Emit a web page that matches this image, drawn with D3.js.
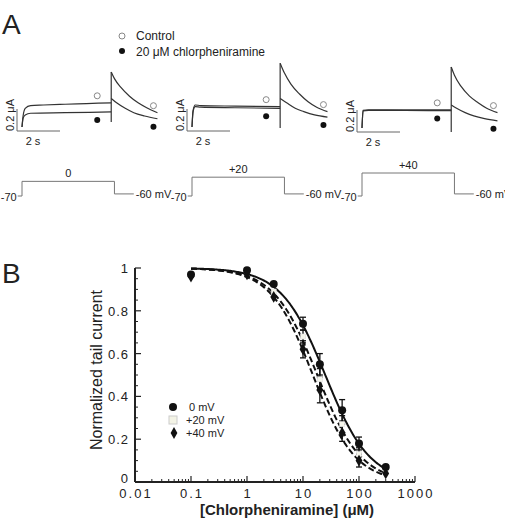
<!DOCTYPE html>
<html>
<head>
<meta charset="utf-8">
<script src="https://cdnjs.cloudflare.com/ajax/libs/d3/7.8.5/d3.min.js"></script>
<style>
  body { margin: 0; background: #fff; }
  text { font-family: Arial, "Liberation Sans", sans-serif; fill: #222; }
</style>
</head>
<body>
<svg id="fig" width="505" height="523"></svg>
<script>
// ---- Panel A: current traces (t in s, I in uA above holding level)
const stepVoltages = [0, 20, 40];
const ctrlStep = [
  [[0, 0], [0.05, 0.1], [0.15, 0.17], [0.4, 0.195], [1, 0.2], [2, 0.207], [3, 0.213], [4.15, 0.22]],
  [[0, 0], [0.05, 0.15], [0.15, 0.2], [0.4, 0.195], [2, 0.19], [4.1, 0.185]],
  [[0, 0], [0.05, 0.16], [0.3, 0.166], [2, 0.165], [4.15, 0.165]]
];
const drugStep = [
  [[0, 0], [0.05, 0.08], [0.15, 0.11], [0.4, 0.125], [2, 0.13], [4.15, 0.137]],
  [[0, 0], [0.05, 0.14], [0.15, 0.185], [0.4, 0.18], [2, 0.175], [4.1, 0.17]],
  [[0, 0], [0.05, 0.155], [0.3, 0.16], [2, 0.159], [4.15, 0.158]]
];
const ctrlTail = [
  [[4.15, 0.5], [4.3, 0.44], [4.6, 0.36], [5.0, 0.28], [5.4, 0.22], [5.8, 0.175], [6.3, 0.13]],
  [[4.1, 0.58], [4.3, 0.49], [4.6, 0.39], [5.0, 0.3], [5.4, 0.23], [5.8, 0.18], [6.3, 0.14]],
  [[4.15, 0.555], [4.3, 0.48], [4.6, 0.38], [5.0, 0.29], [5.4, 0.23], [5.8, 0.18], [6.3, 0.14]]
];
const drugTail = [
  [[4.15, 0.26], [4.4, 0.22], [4.8, 0.17], [5.2, 0.13], [5.7, 0.1], [6.3, 0.075]],
  [[4.1, 0.26], [4.4, 0.22], [4.8, 0.17], [5.2, 0.14], [5.7, 0.11], [6.3, 0.09]],
  [[4.15, 0.21], [4.4, 0.18], [4.8, 0.14], [5.2, 0.11], [5.7, 0.085], [6.3, 0.065]]
];
// capacitive artifact at end of step: [t, low, high]
const artifacts = [[4.15, 0.045, 0.5], [4.1, -0.01, 0.58], [4.15, -0.036, 0.555]];

// voltage protocol: [t, mV], step level filled in per panel
const protoTimes = [-0.2, 0, 0, 4.3, 4.3, 5.2];
const holdingMv = -70, tailMv = -60;

// ---- Panel B: concentration-response
const conc = [0.1, 1, 3, 10, 20, 50, 100, 300];
const tail0 = [0.97, 0.99, 0.925, 0.74, 0.55, 0.335, 0.18, 0.07];
const err0 = [0.01, 0.01, 0.01, 0.03, 0.05, 0.05, 0.03, 0.01];
const tail20 = [0.965, 0.975, 0.89, 0.68, 0.48, 0.27, 0.13, 0.05];
const err20 = [0.01, 0.01, 0.01, 0.03, 0.05, 0.04, 0.03, 0.01];
const tail40 = [0.96, 0.97, 0.865, 0.62, 0.43, 0.23, 0.10, 0.04];
const err40 = [0.01, 0.01, 0.01, 0.04, 0.06, 0.04, 0.03, 0.01];
// Hill fits [IC50 uM, slope]
const fit0 = [25, 1.1];
const fit20 = [18, 1.12];
const fit40 = [15, 1.15];
const xTicks = [0.01, 0.1, 1, 10, 100, 1000];
const yTicks = [0, 0.2, 0.4, 0.6, 0.8, 1];

const svg = d3.select("#fig");

// ================= Panel A =================
svg.append("text").attr("x", 2).attr("y", 34).style("font-size", "28px").text("A");

// legend
svg.append("circle").attr("cx", 122).attr("cy", 36).attr("r", 3)
  .attr("fill", "#fff").attr("stroke", "#888").attr("stroke-width", 1);
svg.append("text").attr("x", 136).attr("y", 40).style("font-size", "12px").text("Control");
svg.append("circle").attr("cx", 122).attr("cy", 51).attr("r", 3).attr("fill", "#111");
svg.append("text").attr("x", 136).attr("y", 56).style("font-size", "12px").text("20 \u03bcM chlorpheniramine");

const panelX = [22, 192, 362];
const panelY = [127, 127, 128];
const pxPerS = 21.5, pxPerUA = 110;

panelX.forEach((x0, i) => {
  const y0 = panelY[i];
  const x = d3.scaleLinear().domain([0, 1]).range([x0, x0 + pxPerS]);
  const y = d3.scaleLinear().domain([0, 1]).range([y0, y0 - pxPerUA]);
  const line = d3.line().x(d => x(d[0])).y(d => y(d[1])).curve(d3.curveMonotoneX);
  const g = svg.append("g");

  [ctrlStep[i], drugStep[i], ctrlTail[i], drugTail[i]].forEach(tr => {
    g.append("path").datum(tr).attr("d", line)
      .attr("fill", "none").attr("stroke", "#333").attr("stroke-width", 1.2);
  });
  const a = artifacts[i];
  g.append("line").attr("x1", x(a[0])).attr("x2", x(a[0]))
    .attr("y1", y(a[1])).attr("y2", y(a[2]))
    .attr("stroke", "#333").attr("stroke-width", 1.2);

  // markers next to trace ends
  const cS = ctrlStep[i][ctrlStep[i].length - 1], dS = drugStep[i][drugStep[i].length - 1];
  const cT = ctrlTail[i][ctrlTail[i].length - 1], dT = drugTail[i][drugTail[i].length - 1];
  const mx1 = x(cS[0]) - 14, mx2 = x(cT[0]) - 4;
  g.append("circle").attr("cx", mx1).attr("cy", y(cS[1]) - 7).attr("r", 3)
    .attr("fill", "#fff").attr("stroke", "#888");
  g.append("circle").attr("cx", mx1).attr("cy", y(dS[1]) + 8).attr("r", 3).attr("fill", "#111");
  g.append("circle").attr("cx", mx2).attr("cy", y(cT[1]) - 7).attr("r", 3)
    .attr("fill", "#fff").attr("stroke", "#888");
  g.append("circle").attr("cx", mx2).attr("cy", y(dT[1]) + 8).attr("r", 3).attr("fill", "#111");

  // scale bars
  const bx = x0 - 5, by = y0 + 4;
  g.append("path").attr("d", `M${bx},${y(0.2) + 4}V${by}H${x(2) - 5}`)
    .attr("fill", "none").attr("stroke", "#666").attr("stroke-width", 1);
  g.append("text").attr("transform", `translate(${bx - 3},${by - 16}) rotate(-90)`)
    .attr("text-anchor", "middle").style("font-size", "11px").text("0.2 \u03bcA");
  g.append("text").attr("x", bx + 16).attr("y", by + 14)
    .attr("text-anchor", "middle").style("font-size", "11px").text("2 s");

  // voltage protocol
  const vy = d3.scaleLinear().domain([-70, 40]).range([196, 173]);
  const V = stepVoltages[i];
  const mv = [holdingMv, holdingMv, V, V, tailMv, tailMv];
  const proto = protoTimes.map((t, k) => [t, mv[k]]);
  g.append("path").datum(proto)
    .attr("d", d3.line().x(d => x(d[0])).y(d => vy(d[1])))
    .attr("fill", "none").attr("stroke", "#777").attr("stroke-width", 1);
  g.append("text").attr("x", x(-0.2) - 1).attr("y", vy(holdingMv) + 5)
    .attr("text-anchor", "end").style("font-size", "11px").text(String(holdingMv));
  g.append("text").attr("x", x(5.2) + 2).attr("y", vy(tailMv) + 4)
    .style("font-size", "11px").text(tailMv + " mV");
  g.append("text").attr("x", x(2.15)).attr("y", vy(V) - 4)
    .attr("text-anchor", "middle").style("font-size", "11px").text(V === 0 ? "0" : "+" + V);
});

// ================= Panel B =================
svg.append("text").attr("x", 2).attr("y", 283).style("font-size", "28px").text("B");

const x = d3.scaleLog().domain([0.01, 1000]).range([135, 415]);
const y = d3.scaleLinear().domain([0, 1]).range([482, 268]);
const ax = svg.append("g").attr("stroke", "#222");

// axes lines
ax.append("line").attr("x1", x(0.01)).attr("x2", x(1000)).attr("y1", y(0)).attr("y2", y(0)).attr("stroke-width", 2);
ax.append("line").attr("x1", x(0.01)).attr("x2", x(0.01)).attr("y1", y(0)).attr("y2", y(1)).attr("stroke-width", 2);

// x ticks (log, inward)
const minorX = [];
for (let k = 0; k < xTicks.length - 1; k++)
  for (let m = 2; m <= 9; m++) minorX.push(xTicks[k] * m);
ax.selectAll("line.xmaj").data(xTicks).join("line").attr("class", "xmaj")
  .attr("x1", d => x(d)).attr("x2", d => x(d)).attr("y1", y(0)).attr("y2", y(0) - 6).attr("stroke-width", 1.2);
ax.selectAll("line.xmin").data(minorX).join("line").attr("class", "xmin")
  .attr("x1", d => x(d)).attr("x2", d => x(d)).attr("y1", y(0)).attr("y2", y(0) - 3).attr("stroke-width", 1);
svg.selectAll("text.xl").data(xTicks).join("text").attr("class", "xl")
  .attr("x", d => x(d) + 1).attr("y", 498).attr("text-anchor", "middle")
  .style("font-size", "13px").style("letter-spacing", "2px").text(d => String(d));

// y ticks
const minorY = d3.range(0, 1.0001, 0.05).filter(v => Math.abs(v * 5 - Math.round(v * 5)) > 1e-6);
ax.selectAll("line.ymaj").data(yTicks).join("line").attr("class", "ymaj")
  .attr("x1", x(0.01)).attr("x2", x(0.01) + 6).attr("y1", d => y(d)).attr("y2", d => y(d)).attr("stroke-width", 1.2);
ax.selectAll("line.ymin").data(minorY).join("line").attr("class", "ymin")
  .attr("x1", x(0.01)).attr("x2", x(0.01) + 3).attr("y1", d => y(d)).attr("y2", d => y(d)).attr("stroke-width", 1);
svg.selectAll("text.yl").data(yTicks).join("text").attr("class", "yl")
  .attr("x", 129).attr("y", d => y(d) + (d === 0 ? 1 : 5)).attr("text-anchor", "end")
  .style("font-size", "13px").style("letter-spacing", "1px").text(d => String(d));

// axis titles
svg.append("text").attr("transform", "translate(102,370) rotate(-90)")
  .attr("text-anchor", "middle").style("font-size", "16px").text("Normalized tail current");
svg.append("text").attr("x", 287).attr("y", 515).attr("text-anchor", "middle")
  .style("font-size", "15px").style("font-weight", "bold").text("[Chlorpheniramine] (\u03bcM)");

// fitted curves
const hill = p => conc => 1 / (1 + Math.pow(conc / p[0], p[1]));
const xs = d3.range(-1, Math.log10(300) + 0.001, 0.02).map(e => Math.pow(10, e));
const fitLine = d3.line().x(d => x(d[0])).y(d => y(d[1]));
[[fit40, "6,3"], [fit20, "6,3"], [fit0, null]].forEach(([p, dash]) => {
  const f = hill(p);
  svg.append("path").datum(xs.map(c => [c, f(c)])).attr("d", fitLine)
    .attr("fill", "none").attr("stroke", "#111").attr("stroke-width", 2)
    .attr("stroke-dasharray", dash);
});

// error bars
function errBars(vals, errs) {
  const g = svg.append("g").attr("stroke", "#111").attr("stroke-width", 1.3);
  conc.forEach((c, i) => {
    if (errs[i] < 0.02) return;
    const cx = x(c);
    g.append("line").attr("x1", cx).attr("x2", cx).attr("y1", y(vals[i] - errs[i])).attr("y2", y(vals[i] + errs[i]));
    [-1, 1].forEach(s => g.append("line").attr("x1", cx - 3).attr("x2", cx + 3)
      .attr("y1", y(vals[i] + s * errs[i])).attr("y2", y(vals[i] + s * errs[i])));
  });
}
errBars(tail20, err20);
errBars(tail40, err40);
errBars(tail0, err0);

const diamond = d3.symbol().type(d3.symbolDiamond).size(40);
// +20 mV squares sit faintly beneath the other markers
svg.selectAll("rect.sq").data(conc).join("rect").attr("class", "sq")
  .attr("x", (d) => x(d) - 2.5).attr("y", (d, i) => y(tail20[i]) - 2.5)
  .attr("width", 5).attr("height", 5).attr("fill", "#f6f6ec").attr("stroke", "#ddd").attr("stroke-width", 0.6);
svg.selectAll("path.dm").data(conc).join("path").attr("class", "dm")
  .attr("transform", (d, i) => `translate(${x(d)},${y(tail40[i])})`)
  .attr("d", diamond).attr("fill", "#111");
svg.selectAll("circle.c0").data(conc).join("circle").attr("class", "c0")
  .attr("cx", d => x(d)).attr("cy", (d, i) => y(tail0[i])).attr("r", 4).attr("fill", "#111");

// legend B
const lg = svg.append("g");
lg.append("circle").attr("cx", 173).attr("cy", 407).attr("r", 4).attr("fill", "#111");
lg.append("rect").attr("x", 169).attr("y", 416).attr("width", 8).attr("height", 8)
  .attr("fill", "#f4f4e6").attr("stroke", "#ccc");
lg.append("path").attr("transform", "translate(174,433)").attr("d", diamond).attr("fill", "#111");
lg.append("text").attr("x", 189).attr("y", 411).style("font-size", "11px").text("0 mV");
lg.append("text").attr("x", 186).attr("y", 424).style("font-size", "11px").text("+20 mV");
lg.append("text").attr("x", 186).attr("y", 437).style("font-size", "11px").text("+40 mV");
</script>
</body>
</html>
